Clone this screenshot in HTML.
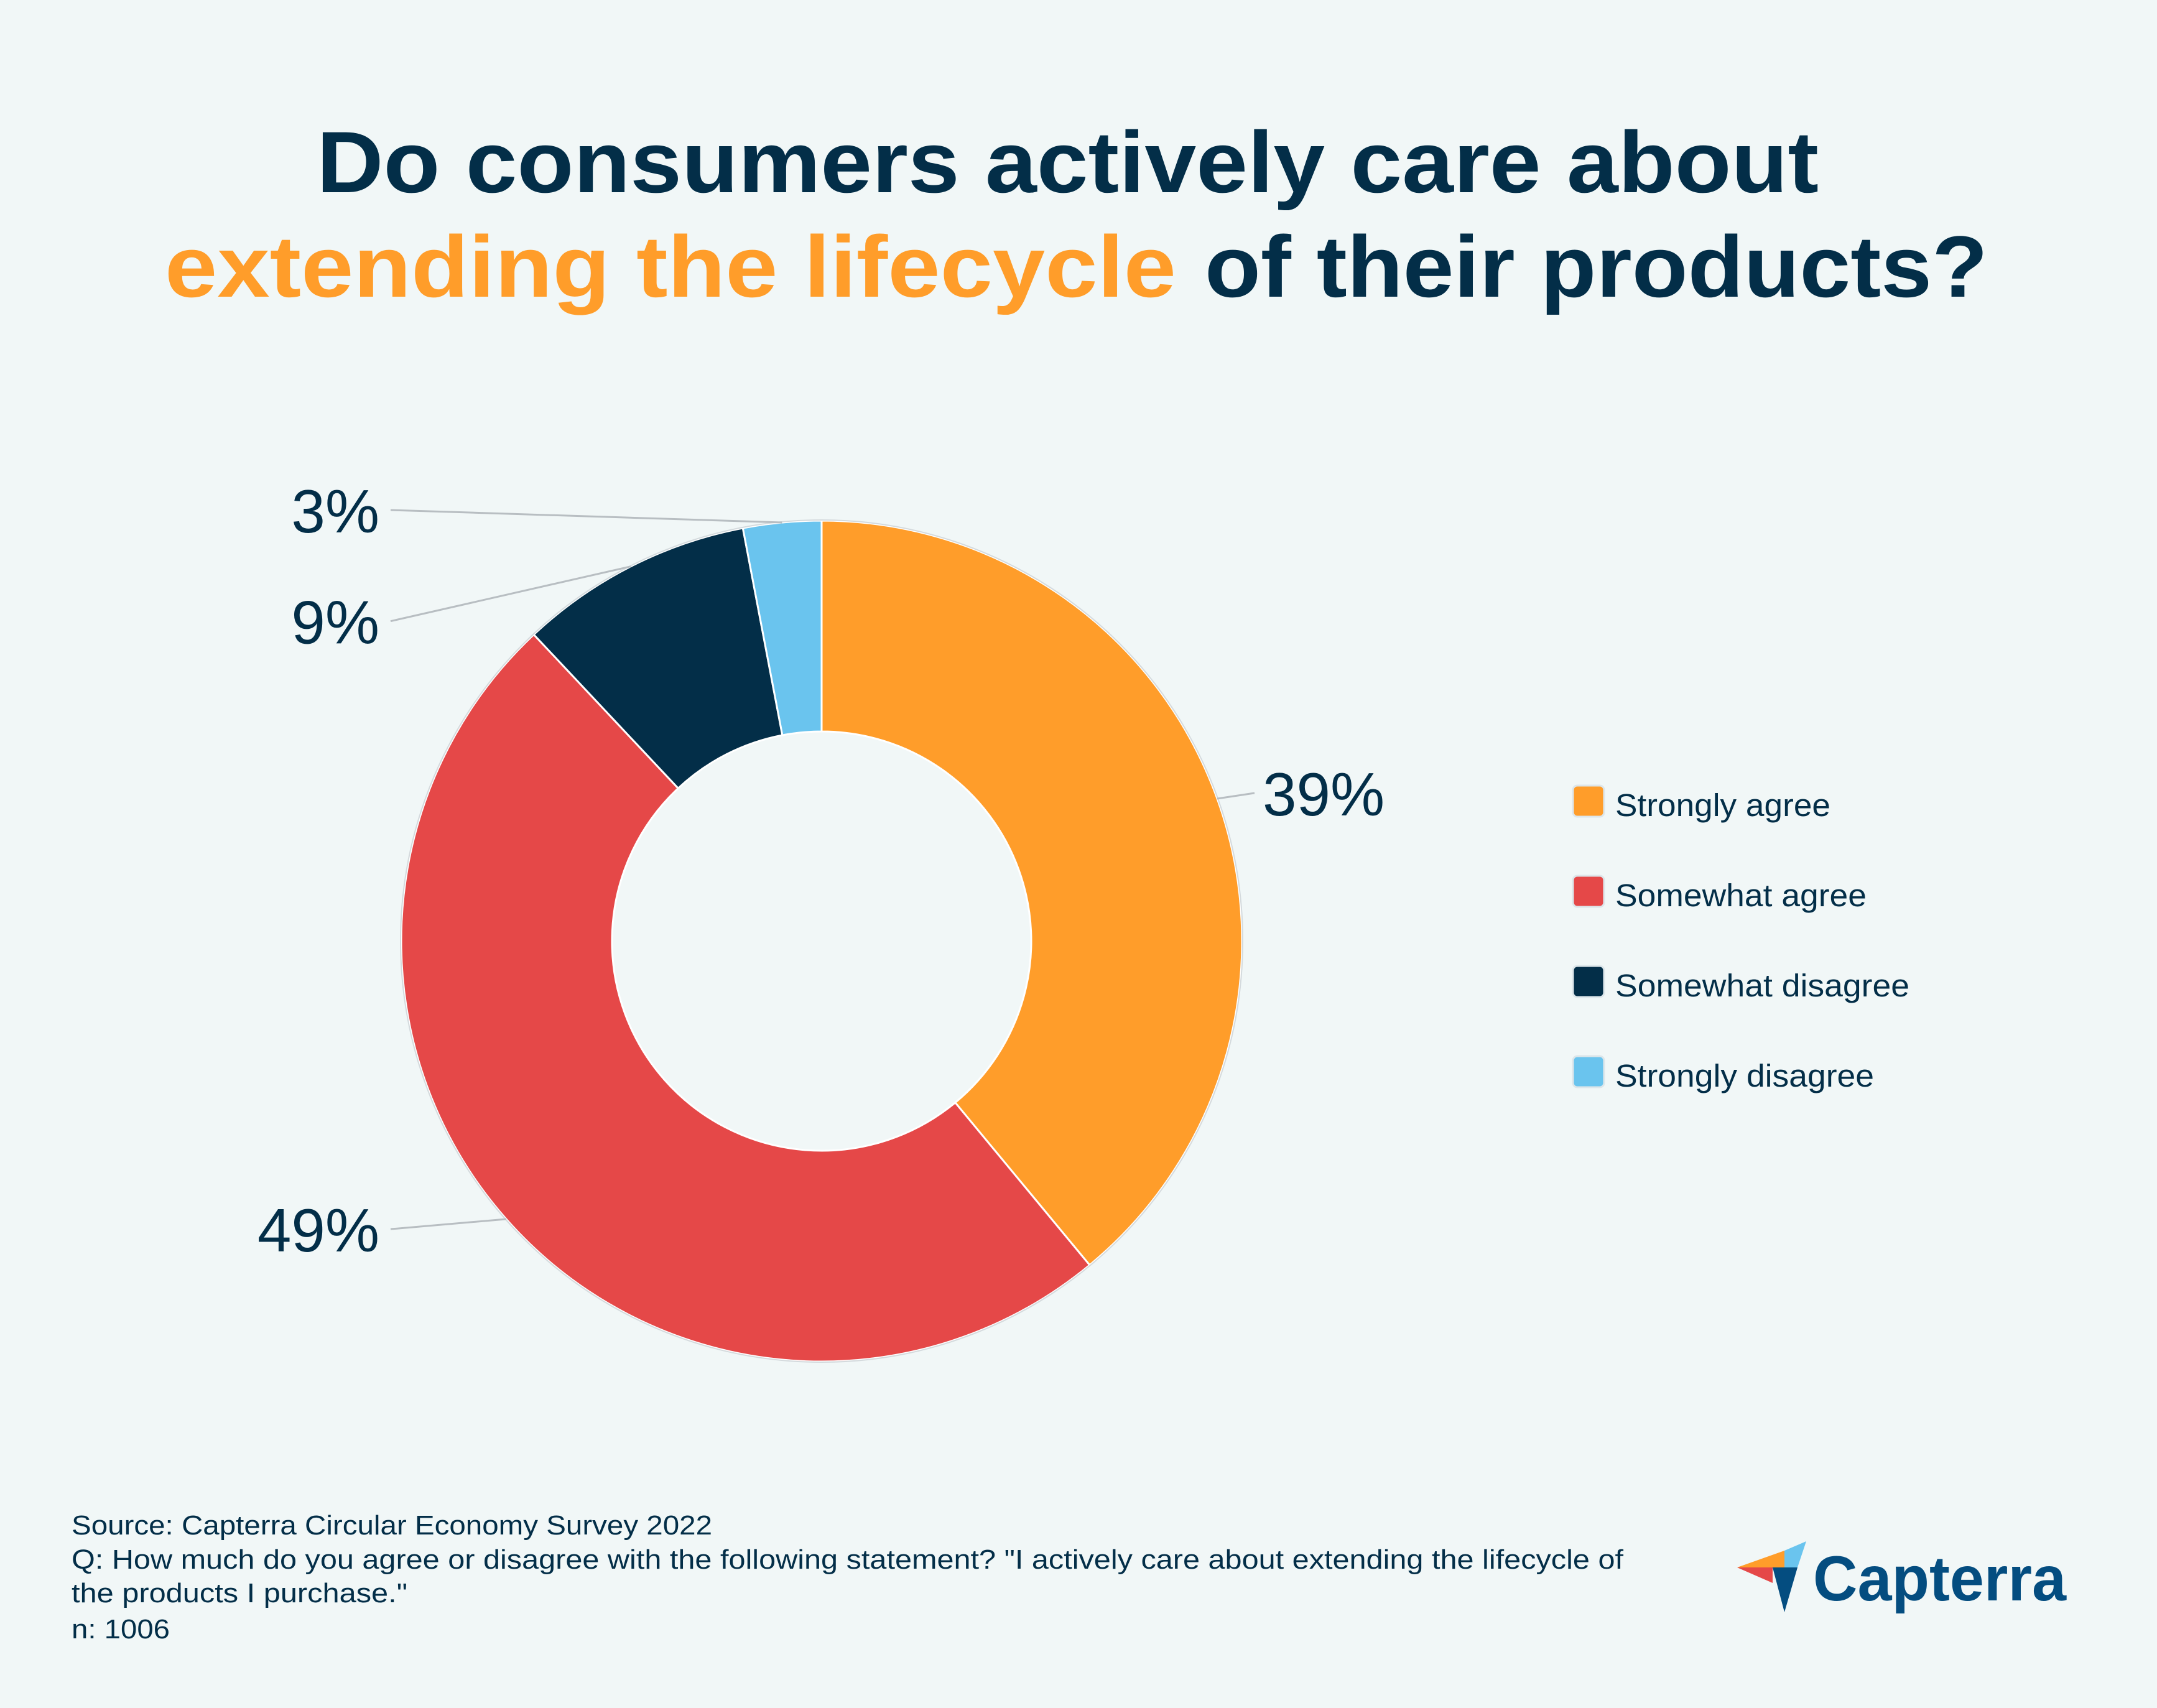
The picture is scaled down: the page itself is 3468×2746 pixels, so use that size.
<!DOCTYPE html>
<html><head><meta charset="utf-8">
<style>
html,body{margin:0;padding:0;background:#f1f7f7;}
svg{display:block;}
text{font-family:"Liberation Sans",sans-serif;}
</style></head>
<body>
<svg id="chart" width="3468" height="2746" viewBox="0 0 3468 2746" xmlns="http://www.w3.org/2000/svg">
<rect width="3468" height="2746" fill="#f1f7f7"/>
<g font-weight="bold" font-size="140">
<text x="509" y="309" fill="#032e48" textLength="2415" lengthAdjust="spacingAndGlyphs">Do consumers actively care about</text>
<text x="265" y="477" fill="#ff9d2a" textLength="1626" lengthAdjust="spacingAndGlyphs">extending the lifecycle</text>
<text x="1937" y="477" fill="#032e48" textLength="1259" lengthAdjust="spacingAndGlyphs">of their products?</text>
</g>
<g id="donut"></g>
<g id="labels"></g>
<g id="legend"></g>
<g fill="#032e48" font-size="44">
<text x="115" y="2467" textLength="1030" lengthAdjust="spacingAndGlyphs">Source: Capterra Circular Economy Survey 2022</text>
<text x="115" y="2522" textLength="2495" lengthAdjust="spacingAndGlyphs">Q: How much do you agree or disagree with the following statement? "I actively care about extending the lifecycle of</text>
<text x="115" y="2576" textLength="540" lengthAdjust="spacingAndGlyphs">the products I purchase."</text>
<text x="115" y="2634" textLength="158" lengthAdjust="spacingAndGlyphs">n: 1006</text>
</g>
<g>
<polygon points="2793,2520 2869,2493 2869,2520" fill="#ff9d2a"/>
<polygon points="2869,2493 2904,2478 2890,2520 2869,2520" fill="#6ac4ee"/>
<polygon points="2793,2520 2850,2520 2850,2545" fill="#e54848"/>
<polygon points="2850,2520 2890,2520 2869,2592" fill="#044d80"/>
<text x="2915" y="2573" font-size="102" font-weight="bold" fill="#044d80" textLength="407" lengthAdjust="spacingAndGlyphs">Capterra</text>
</g>
</svg>
<script>
const categories = ["Strongly agree","Somewhat agree","Somewhat disagree","Strongly disagree"];
const values = [39, 49, 9, 3];
const valueLabels = ["39%","49%","9%","3%"];
const colors = ["#ff9d2a","#e54848","#032e48","#6ac4ee"];

const NS="http://www.w3.org/2000/svg";
const cx=1321, cy=1513, R=676, r=337;
const total=values.reduce((a,b)=>a+b,0);
function pt(frac,rad){const a=frac*2*Math.PI;return [cx+rad*Math.sin(a), cy-rad*Math.cos(a)];}
const donut=document.getElementById('donut');
const labels=document.getElementById('labels');
const legend=document.getElementById('legend');
let cum=0;
const legendW=[346,404,473,416];
values.forEach((v,i)=>{
  const f0=cum/total, f1=(cum+v)/total; cum+=v;
  const [x0,y0]=pt(f0,R),[x1,y1]=pt(f1,R),[x2,y2]=pt(f1,r),[x3,y3]=pt(f0,r);
  const large=(f1-f0)>0.5?1:0;
  const p=document.createElementNS(NS,'path');
  p.setAttribute('d',`M${x0},${y0} A${R},${R} 0 ${large} 1 ${x1},${y1} L${x2},${y2} A${r},${r} 0 ${large} 0 ${x3},${y3} Z`);
  p.setAttribute('fill',colors[i]);
  p.setAttribute('stroke','#ffffff');
  p.setAttribute('stroke-width','3');
  
  
  donut.appendChild(p);
  // label
  const mid=(f0+f1)/2;
  const [mx,my]=pt(mid,R);
  const right=mid<0.5;
  let lx,ly;
  if(right){lx=mx+60; ly=my-9;}
  else{lx=628; ly=(i===1)?my+16:(my+ (i===2?88:-20));}
  const ln=document.createElementNS(NS,'line');
  ln.setAttribute('x1',mx);ln.setAttribute('y1',my);
  ln.setAttribute('x2',lx);ln.setAttribute('y2',ly);
  ln.setAttribute('stroke','#b8bec2');ln.setAttribute('stroke-width','3');
  
  
  labels.appendChild(ln);
  const t=document.createElementNS(NS,'text');
  t.textContent=valueLabels[i];
  t.setAttribute('font-size','98');
  t.setAttribute('fill','#032e48');
  t.setAttribute('x', right? lx+13 : lx-18);
  t.setAttribute('y', ly+36);
  t.setAttribute('text-anchor', right?'start':'end');
  
  
  labels.appendChild(t);
  // legend
  const sy=1263+i*145;
  const sw=document.createElementNS(NS,'rect');
  sw.setAttribute('x',2529);sw.setAttribute('y',sy);sw.setAttribute('width',50);sw.setAttribute('height',50);
  sw.setAttribute('rx',7);sw.setAttribute('fill',colors[i]);
  sw.setAttribute('stroke','#dde6ea');sw.setAttribute('stroke-width','3');
  
  
  legend.appendChild(sw);
  const lt=document.createElementNS(NS,'text');
  lt.textContent=categories[i];
  lt.setAttribute('x',2597);lt.setAttribute('y',sy+49);
  lt.setAttribute('font-size','51');lt.setAttribute('fill','#032e48');
  lt.setAttribute('textLength',legendW[i]);lt.setAttribute('lengthAdjust','spacingAndGlyphs');
  
  
  legend.appendChild(lt);
});
const ring=document.createElementNS(NS,'circle');
ring.setAttribute('cx',cx);ring.setAttribute('cy',cy);ring.setAttribute('r',R+1);
ring.setAttribute('fill','none');ring.setAttribute('stroke','#d4dadd');ring.setAttribute('stroke-width','2');


donut.appendChild(ring);
</script>
</body></html>
